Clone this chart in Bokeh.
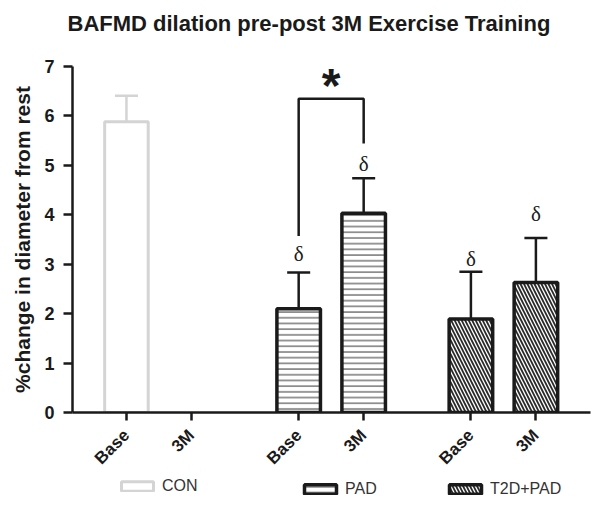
import math
from bokeh.plotting import figure
from bokeh.layouts import column
from bokeh.models import (Range1d, FixedTicker, Whisker, TeeHead, ColumnDataSource,
                          Legend, LegendItem)
from bokeh.core.properties import value
from bokeh.embed import file_html
from bokeh.resources import INLINE

# ---- data ----
title_text = "BAFMD dilation pre-post 3M Exercise Training"
groups = ["CON", "PAD", "T2D+PAD"]
timepoints = ["Base", "3M"]
con_mean = [5.88]            # CON has no 3M value
con_upper = [6.41]
pad_mean = [2.10, 4.03]
pad_upper = [2.83, 4.74]
t2d_mean = [1.89, 2.63]
t2d_upper = [2.85, 3.53]
delta_y = [3.21, 5.02, 3.11, 4.02]          # δ marks: PAD Base, PAD 3M, T2D Base, T2D 3M
bracket_y = [3.57, 6.35, 6.35, 5.44]        # significance bracket PAD Base vs 3M
star_y = 6.62
y_ticks = [0, 1, 2, 3, 4, 5, 6, 7]

GROUP_STRIDE = 2.65
BAR_W = 0.67
FONT = "Liberation Sans"
INK = "#1a1a1a"
LIGHT = "#d4d4d4"

STYLES = {
    "CON": dict(fill_color="white", line_color=LIGHT, line_width=3),
    "PAD": dict(fill_color="white", line_color=INK, line_width=3.5,
                hatch_pattern="horizontal_line", hatch_scale=5.7, hatch_weight=1,
                hatch_color="#333333"),
    "T2D+PAD": dict(fill_color="white", line_color=INK, line_width=3.5,
                    hatch_pattern="left_diagonal_line", hatch_scale=7, hatch_weight=1.8,
                    hatch_color="#2a2a2a"),
}

def xs(g):
    return [g * GROUP_STRIDE + i for i in range(len(timepoints))]

def bare(height):
    f = figure(width=594, height=height, output_backend="svg", toolbar_location=None,
               x_range=Range1d(0, 1), y_range=Range1d(0, 1),
               x_axis_location=None, y_axis_location=None, min_border=0)
    f.outline_line_color = None
    f.grid.visible = False
    return f

# title strip (frame aligned with the chart frame by the column layout)
tf = bare(46)
tf.title.text = title_text
tf.title.text_font = FONT
tf.title.text_font_size = "22px"
tf.title.text_font_style = "bold"
tf.title.align = "left"
tf.title.offset = -5
tf.title.standoff = 17
tf.title.text_color = INK

p = figure(frame_width=518, frame_height=346, output_backend="svg", toolbar_location=None,
           x_range=Range1d(-0.83, 7.14), y_range=Range1d(0, 7))
p.min_border_left = 72
p.min_border_right = 4
p.min_border_top = 20
p.min_border_bottom = 62
p.outline_line_color = None
p.grid.visible = False
p.background_fill_color = "white"

# bars
con_src = ColumnDataSource(dict(x=xs(0)[:1], top=con_mean, upper=con_upper))
pad_src = ColumnDataSource(dict(x=xs(1), top=pad_mean, upper=pad_upper))
t2d_src = ColumnDataSource(dict(x=xs(2), top=t2d_mean, upper=t2d_upper))
sources = {"CON": con_src, "PAD": pad_src, "T2D+PAD": t2d_src}

for g in groups:
    p.vbar(x="x", top="top", width=BAR_W, source=sources[g], **STYLES[g])

# error bars (upper only)
for src, col in [(con_src, LIGHT), (pad_src, INK), (t2d_src, INK)]:
    w = Whisker(source=src, base="x", lower="top", upper="upper", line_color=col, line_width=2.5,
                upper_head=TeeHead(size=23, line_color=col, line_width=2.5), lower_head=None)
    p.add_layout(w)

# delta marks
dx = xs(1) + xs(2)
p.text(x=dx, y=delta_y, text=["δ"] * 4, text_font=value("Liberation Serif"),
       text_font_size="21px", text_align="center", text_baseline="middle", text_color=INK)

# significance bracket
bx = [xs(1)[0], xs(1)[0], xs(1)[1], xs(1)[1]]
p.line(x=bx, y=bracket_y, line_color=INK, line_width=2.5)
p.text(x=[(xs(1)[0] + xs(1)[1]) / 2], y=[star_y], text=["*"], text_font=value(FONT),
       text_font_size="48px", text_font_style="bold", text_align="center",
       text_baseline="middle", text_color=INK)

# axes
all_x = xs(0) + xs(1) + xs(2)
p.xaxis.ticker = FixedTicker(ticks=all_x)
p.xaxis.major_label_overrides = {float(v) if v != int(v) else int(v): timepoints[i % 2]
                                 for i, v in enumerate(all_x)}
p.xaxis.major_label_orientation = math.pi / 4
p.xaxis.major_label_text_font = FONT
p.xaxis.major_label_text_font_style = "bold"
p.xaxis.major_label_text_font_size = "17px"
p.xaxis.major_label_text_color = INK
p.xaxis.major_label_standoff = 12
p.xaxis.axis_line_width = 2.5
p.xaxis.axis_line_color = INK
p.xaxis.major_tick_line_width = 2.5
p.xaxis.major_tick_line_color = INK
p.xaxis.major_tick_out = 8
p.xaxis.major_tick_in = 0
p.xaxis.minor_tick_line_color = None

p.yaxis.ticker = FixedTicker(ticks=y_ticks)
p.yaxis.axis_label = "%change in diameter from rest"
p.yaxis.axis_label_text_font = FONT
p.yaxis.axis_label_text_font_style = "bold"
p.yaxis.axis_label_text_font_size = "21px"
p.yaxis.axis_label_text_color = INK
p.yaxis.axis_label_standoff = 7
p.yaxis.major_label_text_font = FONT
p.yaxis.major_label_text_font_style = "bold"
p.yaxis.major_label_text_font_size = "18px"
p.yaxis.major_label_text_color = INK
p.yaxis.major_label_standoff = 9
p.yaxis.axis_line_width = 2.5
p.yaxis.axis_line_color = INK
p.yaxis.major_tick_line_width = 2.5
p.yaxis.major_tick_line_color = INK
p.yaxis.major_tick_out = 9
p.yaxis.major_tick_in = 0
p.yaxis.minor_tick_line_color = None

# legend strip below the chart (own small figure so nothing is clipped)
lf = bare(30)
for label, loc in [(groups[0], (45, 12)), (groups[1], (228, 9)), (groups[2], (373, 9))]:
    r = lf.vbar(x="x", top="top", width=BAR_W, source=sources[label], visible=False,
                **STYLES[label])
    lg = Legend(items=[LegendItem(label=label, renderers=[r])], location=loc,
                orientation="horizontal")
    lg.border_line_color = None
    lg.background_fill_alpha = 0
    lg.glyph_width = 40
    lg.glyph_height = 12
    lg.label_height = 12
    lg.label_standoff = 5
    lg.padding = 0
    lg.margin = 0
    lg.label_text_font = FONT
    lg.label_text_font_size = "16px"
    lg.label_text_color = "#333333"
    lf.add_layout(lg)

layout = column(tf, p, lf, spacing=0)
open("out.html", "w").write(file_html(layout, INLINE))
